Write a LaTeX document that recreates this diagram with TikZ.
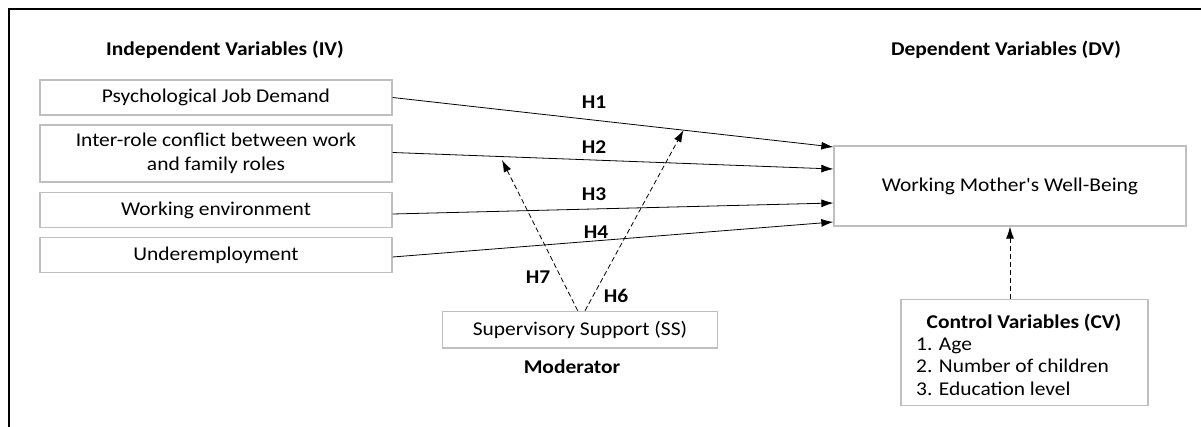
\documentclass[tikz,border=0pt]{standalone}
\usepackage{fontspec}
\setmainfont{Carlito}[FakeStretch=1.1, Ligatures=TeXOff]
\usetikzlibrary{arrows.meta}
\definecolor{boxgray}{HTML}{BFBFBF}
\begin{document}
\begin{tikzpicture}[x=1pt,y=-1pt,
  box/.style={draw=boxgray, line width=1.3pt, minimum width=352pt, minimum height=35pt, inner sep=0pt, align=center, font=\fontsize{19.5}{24}\selectfont},
  txt/.style={inner sep=0pt, font=\fontsize{19.5}{24}\selectfont},
  bld/.style={inner sep=0pt, font=\bfseries\fontsize{19.5}{24}\selectfont},
  arr/.style={-{Latex[length=12pt,width=8pt]}, line width=0.8pt},
  darr/.style={arr, dash pattern=on 5pt off 3pt},
]
\useasboundingbox (0,0) rectangle (1201,427);
\draw[line width=2pt] (9,427) -- (9,9) -- (1201,9);

\node[bld] (ivh) at (225,50) {Independent Variables (IV)};
\node[bld] (dvh) at (1006,50) {Dependent Variables (DV)};

\node[box] (psych) at (216,97.5) {Psychological Job Demand};
\node[box, minimum height=57pt] (inter) at (216,153.5) {Inter-role conflict between work\\and family roles};
\node[box] (work) at (216,210) {Working environment};
\node[box] (under) at (216,255) {Underemployment};

\node[box, minimum height=80pt] (dv) at (1010,186) {Working Mother's Well-Being};

\node[box, minimum width=275pt, minimum height=36.7pt] (ss) at (580,329.7) {Supervisory Support (SS)};
\node[bld] (mod) at (572,367) {Moderator};

\node[box, minimum width=247pt, minimum height=105.6pt] (cv) at (1024.5,352.5) {};
\node[bld, anchor=base] (cvt) at (1024,328) {Control Variables (CV)};
\node[txt, anchor=base west] (cv1) at (916,350) {1. Age};
\node[txt, anchor=base west] (cv2) at (916,372.7) {2. Number of children};
\node[txt, anchor=base west] (cv3) at (916,395) {3. Education level};

\draw[arr] (psych.east) -- coordinate[pos=0.66] (h6end) ([yshift=39pt]dv.west);
\draw[arr] ([yshift=1pt]inter.east) -- ([yshift=17pt]dv.west);
\draw[arr] ([yshift=-4pt]work.east) -- ([yshift=-17pt]dv.west);
\draw[arr] ([yshift=-2pt]under.east) -- ([yshift=-36pt]dv.west);

\coordinate (h7end) at (502,160);
\draw[darr] ([xshift=-2.3pt]ss.north) -- (h7end);
\draw[darr] ([xshift=5pt]ss.north) -- (h6end);
\draw[darr] ([xshift=-14.5pt]cv.north) -- (dv.south);

\node[bld] (h1) at (594,102.5) {H1};
\node[bld] (h2) at (594,147.5) {H2};
\node[bld] (h3) at (594,194.5) {H3};
\node[bld] (h4) at (596,232) {H4};
\node[bld] (h7) at (538,277) {H7};
\node[bld] (h6) at (616,296) {H6};
\end{tikzpicture}
\end{document}
